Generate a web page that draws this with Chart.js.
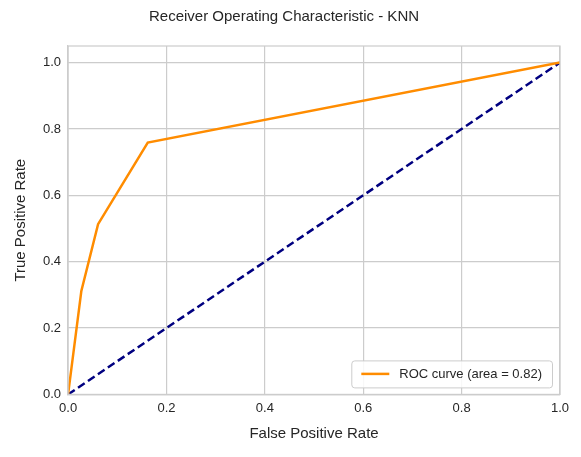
<!DOCTYPE html>
<html><head><meta charset="utf-8">
<script src="https://cdn.jsdelivr.net/npm/chart.js@4"></script>
<style>html,body{margin:0;padding:0;background:#fff}#w{width:581px;height:457px}</style>
</head><body><div id="w"><canvas id="c"></canvas></div>
<script>
const fpr = [0, 0.027, 0.061, 0.162, 1];
const tpr = [0, 0.312, 0.513, 0.759, 1];
const diagX = [0, 1];
const diagY = [0, 1];
const xTicks = [0, 0.2, 0.4, 0.6, 0.8, 1.0];
const rocLabel = 'ROC curve (area = 0.82)';

const F = 'Liberation Sans';
const legendPlugin = {
  id: 'boxLegend',
  afterDatasetsDraw(chart) {
    const {ctx, chartArea: a} = chart;
    ctx.save();
    ctx.font = '13px "' + F + '"';
    const tw = ctx.measureText(rocLabel).width;
    const w = tw + 58, h = 27;
    const x = a.right - 8 - w, y = a.bottom - 7 - h;
    ctx.fillStyle = 'rgba(255,255,255,0.85)';
    ctx.strokeStyle = '#cccccc';
    ctx.lineWidth = 1;
    ctx.beginPath(); ctx.roundRect(x + 0.5, y + 0.5, w, h, 3); ctx.fill(); ctx.stroke();
    ctx.strokeStyle = 'darkorange'; ctx.lineWidth = 2.5;
    ctx.beginPath(); ctx.moveTo(x + 10, y + h / 2); ctx.lineTo(x + 38, y + h / 2); ctx.stroke();
    ctx.fillStyle = '#262626'; ctx.textBaseline = 'middle';
    ctx.fillText(rocLabel, x + 48, y + h / 2 + 1);
    ctx.restore();
  }
};

new Chart(document.getElementById('c'), {
  type: 'line',
  data: {
    datasets: [
      { label: rocLabel, data: fpr.map((v, i) => ({x: v, y: tpr[i]})), borderColor: 'darkorange', borderWidth: 2.5, pointRadius: 0, tension: 0, fill: false },
      { label: 'chance', data: diagX.map((v, i) => ({x: v, y: diagY[i]})), borderColor: 'navy', borderWidth: 2.5, borderDash: [8, 4], pointRadius: 0, fill: false }
    ]
  },
  options: {
    responsive: true, maintainAspectRatio: false, animation: false,
    layout: { padding: { left: 8, right: 21, top: 4, bottom: 10 } },
    plugins: {
      legend: { display: false },
      tooltip: { enabled: false },
      title: { display: true, text: 'Receiver Operating Characteristic - KNN', color: '#262626', font: { family: F, size: 15, weight: 'normal' }, padding: { top: 4, bottom: 20 } }
    },
    scales: {
      x: {
        type: 'linear', min: 0, max: 1.0,
        afterBuildTicks: s => { s.ticks = xTicks.map(v => ({value: v})); },
        ticks: { color: '#262626', font: { family: F, size: 13 }, callback: v => v.toFixed(1), maxRotation: 0, padding: 6 },
        grid: { color: '#cccccc', lineWidth: 1.2, drawTicks: false },
        border: { color: '#cccccc', width: 1.2 },
        title: { display: true, text: 'False Positive Rate', color: '#262626', font: { family: F, size: 15 }, padding: { top: 3 } }
      },
      y: {
        type: 'linear', min: 0, max: 1.05,
        afterBuildTicks: s => { s.ticks = xTicks.map(v => ({value: v})); },
        ticks: { color: '#262626', font: { family: F, size: 13 }, callback: v => v.toFixed(1), padding: 7 },
        grid: { color: '#cccccc', lineWidth: 1.2, drawTicks: false },
        border: { color: '#cccccc', width: 1.2 },
        title: { display: true, text: 'True Positive Rate', color: '#262626', font: { family: F, size: 15 }, padding: { bottom: 6 } }
      }
    }
  },
  plugins: [legendPlugin, {
    id: 'frame',
    afterDraw(chart) {
      const {ctx, chartArea: a} = chart;
      ctx.save(); ctx.strokeStyle = '#cccccc'; ctx.lineWidth = 1.2;
      ctx.strokeRect(a.left, a.top, a.right - a.left, a.bottom - a.top); ctx.restore();
    }
  }]
});
</script></body></html>
